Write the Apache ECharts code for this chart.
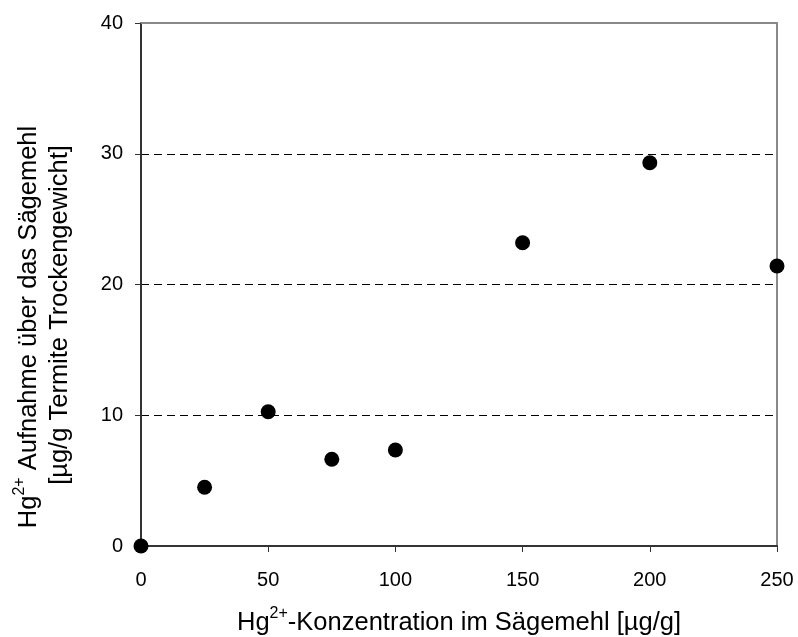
<!DOCTYPE html>
<html><head><meta charset="utf-8">
<script src="https://cdn.jsdelivr.net/npm/echarts@6/dist/echarts.min.js"></script>
<style>html,body{margin:0;padding:0;background:#fff}#c{width:798px;height:637px}</style>
</head><body><div id="c"></div>
<script>
var concentrations = [0, 25, 50, 75, 100, 150, 200, 250];
var uptake = [0, 4.49, 10.27, 6.63, 7.34, 23.19, 29.31, 21.41];
var xTicks = [0, 50, 100, 150, 200, 250];
var yTicks = [0, 10, 20, 30, 40];

var FONT = '"Liberation Sans", Arial, sans-serif';
var TF = 25.5, SF = 16, LH = 30;
var titleRich = {
  a: {fontFamily: FONT, fontSize: TF, color: '#000', fill: '#000', verticalAlign: 'bottom', lineHeight: LH},
  s: {fontFamily: FONT, fontSize: SF, color: '#000', fill: '#000', verticalAlign: 'top', lineHeight: LH}
};
var chart = echarts.init(document.getElementById('c'), null, {renderer: 'canvas'});
var points = concentrations.map(function (c, i) { return [c, uptake[i]]; });

chart.setOption({
  animation: false,
  backgroundColor: '#fff',
  grid: {left: 141, right: 21, top: 23, bottom: 91, containLabel: false, outerBoundsMode: 'none'},
  xAxis: [{
    type: 'value', min: xTicks[0], max: xTicks[xTicks.length - 1], interval: 50,
    axisLine: {show: true, onZero: false, lineStyle: {color: '#333', width: 2}},
    axisTick: {show: true, inside: false, length: 6, lineStyle: {color: '#333', width: 1}},
    axisLabel: {color: '#000', fontFamily: FONT, fontSize: 20, margin: 24},
    splitLine: {show: false},
    name: '{a|Hg}{s|2+}{a|-Konzentration im Sägemehl [µg/g]}',
    nameLocation: 'middle', nameGap: 60,
    nameTextStyle: {rich: titleRich}
  }, {
    type: 'value', position: 'top', min: 0, max: 250,
    axisLine: {show: true, onZero: false, lineStyle: {color: '#888', width: 2}},
    axisTick: {show: false}, axisLabel: {show: false}, splitLine: {show: false}
  }],
  yAxis: [{
    type: 'value', min: yTicks[0], max: yTicks[yTicks.length - 1], interval: 10,
    axisLine: {show: true, onZero: false, lineStyle: {color: '#333', width: 2}},
    axisTick: {show: true, inside: false, length: 6, lineStyle: {color: '#333', width: 1}},
    axisLabel: {color: '#000', fontFamily: FONT, fontSize: 20, margin: 18},
    splitLine: {show: true, showMinLine: false, showMaxLine: false, lineStyle: {color: '#000', width: 1, type: [8, 5]}}
  }, {
    type: 'value', position: 'right', min: 0, max: 40,
    axisLine: {show: true, onZero: false, lineStyle: {color: '#888', width: 2}},
    axisTick: {show: false}, axisLabel: {show: false}, splitLine: {show: false}
  }],
  graphic: [{
    type: 'text', x: 27, y: 327, rotation: Math.PI / 2,
    style: {
      text: '{a|Hg}{s|2+}{a| Aufnahme über das Sägemehl}',
      align: 'center', verticalAlign: 'middle', rich: titleRich
    }
  }, {
    type: 'text', x: 58, y: 315, rotation: Math.PI / 2,
    style: {
      text: '{a|[µg/g Termite Trockengewicht]}',
      align: 'center', verticalAlign: 'middle', rich: titleRich
    }
  }],
  series: [{
    type: 'scatter', xAxisIndex: 0, yAxisIndex: 0,
    data: points, symbol: 'circle', symbolSize: 15,
    itemStyle: {color: '#000', opacity: 1}, z: 10
  }]
});
</script></body></html>
